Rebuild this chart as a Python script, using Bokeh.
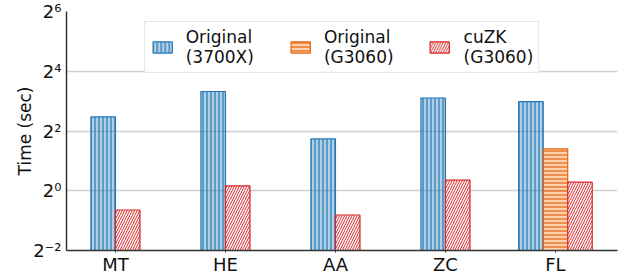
from bokeh.plotting import figure
from bokeh.models import ColumnDataSource, FixedTicker, Range1d, Legend, LegendItem
from bokeh.embed import file_html
from bokeh.resources import INLINE

categories = ["MT", "HE", "AA", "ZC", "FL"]
orig_3700x = [5.55, 10.0, 3.33, 8.6, 7.9]
orig_g3060 = [None, None, None, None, 2.64]
cuzk_g3060 = [0.64, 1.12, 0.57, 1.28, 1.22]
series_labels = ["Original\n(3700X)", "Original\n(G3060)", "cuZK\n(G3060)"]
y_ticks = [0.25, 1, 4, 16, 64]
y_tick_labels = ["2\u207b\u00b2", "2\u2070", "2\u00b2", "2\u2074", "2\u2076"]

FONT = "DejaVu Sans"
BAR_W = 0.223

p = figure(width=626, height=277, output_backend="svg", toolbar_location=None,
           y_axis_type="log", x_range=Range1d(-0.445, 4.564),
           y_range=Range1d(0.25, 64),
           min_border_left=66, min_border_right=9, min_border_top=11, min_border_bottom=0)
p.outline_line_color = None
p.background_fill_color = "white"
p.border_fill_color = "white"

series = [orig_3700x, orig_g3060, cuzk_g3060]
styles = [
    dict(fill_color="#1f77b4", fill_alpha=0.35, line_color="#1f77b4", hatch_pattern="vertical_line",
         hatch_color="#1f77b4", hatch_scale=4, hatch_weight=1.2),
    dict(fill_color="#ff7f0e", fill_alpha=0.35, line_color="#e6600d", hatch_pattern="horizontal_line",
         hatch_color="#e6600d", hatch_scale=4, hatch_weight=1.2),
    dict(fill_color="white", fill_alpha=1.0, line_color="#d62728", hatch_pattern="right_diagonal_line",
         hatch_color="#d62728", hatch_scale=5, hatch_weight=1.0),
]

xs = [[] for _ in series]
tops = [[] for _ in series]
for gi, cat in enumerate(categories):
    present = [si for si, s in enumerate(series) if s[gi] is not None]
    n = len(present)
    for k, si in enumerate(present):
        xs[si].append(gi + (k - (n - 1) / 2) * BAR_W)
        tops[si].append(series[si][gi])

items = []
for si in range(len(series)):
    src = ColumnDataSource(dict(x=xs[si], top=tops[si]))
    r = p.vbar(x="x", top="top", bottom=0.25, width=BAR_W, source=src, line_width=1.2, **styles[si])
    items.append(LegendItem(label=series_labels[si], renderers=[r]))

legend = Legend(items=items, orientation="horizontal", location="top_center",
                label_text_font=FONT, label_text_font_size="17px", label_text_color="#111111",
                glyph_width=24, glyph_height=14, label_standoff=12, spacing=34,
                padding=5, margin=10, border_line_color="#cccccc", border_line_width=1,
                background_fill_alpha=0.9, label_text_line_height=1.15)
p.add_layout(legend, "center")

p.xaxis.ticker = FixedTicker(ticks=list(range(len(categories))))
p.xaxis.major_label_overrides = {i: c for i, c in enumerate(categories)}
p.yaxis.ticker = FixedTicker(ticks=y_ticks, minor_ticks=[])
p.yaxis.major_label_overrides = {t: l for t, l in zip(y_ticks, y_tick_labels)}

for ax in (p.xaxis, p.yaxis):
    ax.axis_line_color = "#333333"
    ax.axis_line_width = 1.5
    ax.major_label_text_font = FONT
    ax.major_label_text_font_size = "18px"
    ax.major_label_text_color = "#111111"
    ax.minor_tick_line_color = None
p.xaxis.major_tick_in = 0
p.xaxis.major_tick_out = 2
p.xaxis.major_tick_line_color = "#333333"
p.xaxis.major_label_standoff = 1
p.yaxis.major_tick_in = 0
p.yaxis.major_tick_out = 0
p.yaxis.major_label_standoff = 5
p.yaxis.axis_label = "Time (sec)"
p.yaxis.axis_label_text_font = FONT
p.yaxis.axis_label_text_font_size = "17px"
p.yaxis.axis_label_text_font_style = "normal"
p.yaxis.axis_label_text_color = "#111111"
p.yaxis.axis_label_standoff = -5

p.xgrid.grid_line_color = None
p.ygrid.grid_line_color = "#d0d0d0"
p.ygrid.grid_line_width = 1.5

open("out.html", "w").write(file_html(p, INLINE))
